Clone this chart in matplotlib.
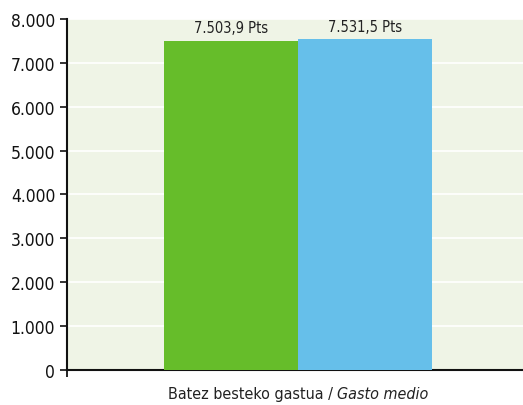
import matplotlib
matplotlib.use('Agg')
from matplotlib import pyplot as plt
from matplotlib.offsetbox import TextArea, HPacker, AnnotationBbox

# data
categories = ['Batez besteko gastua']
series_names = ['A', 'B']
series_values = [7503.9, 7531.5]
value_labels = ['7.503,9 Pts', '7.531,5 Pts']
y_ticks = [0, 1000, 2000, 3000, 4000, 5000, 6000, 7000, 8000]
y_tick_labels = ['0', '1.000', '2.000', '3.000', '4.000', '5.000', '6.000', '7.000', '8.000']

colors = ['#66bd2a', '#66bfea']
plt.rcParams['font.family'] = ['DejaVu Sans']
plt.rcParams['font.stretch'] = 'condensed'

fig = plt.figure(figsize=(5.23, 4.06), dpi=100)
ax = fig.add_axes([0.128, 0.086, 0.872, 0.865])
ax.set_facecolor('#eff4e6')

width = 0.294
offsets = [-width / 2, width / 2]
for i, v in enumerate(series_values):
    ax.bar(offsets[i], v, width=width, color=colors[i], zorder=3)
    ax.text(offsets[i], v + 120, value_labels[i], ha='center', va='bottom',
            fontsize=10.5, color='#222222', zorder=4)

ax.set_xlim(-0.507, 0.493)
ax.set_ylim(0, 8000)
ax.set_yticks(y_ticks)
ax.set_yticklabels(y_tick_labels)
ax.set_xticks([-0.507])
ax.set_xticklabels([''])
ax.tick_params(axis='y', labelsize=12.5, length=5, width=1.2, colors='#111111')
ax.tick_params(axis='x', length=5, width=1.2)
ax.grid(axis='y', color='white', linewidth=1.2, zorder=1)
for s in ['top', 'right']:
    ax.spines[s].set_visible(False)
for s in ['left', 'bottom']:
    ax.spines[s].set_linewidth(1.5)
    ax.spines[s].set_color('#111111')

# x label with italic part
t1 = TextArea('Batez besteko gastua / ', textprops=dict(fontsize=11.5, color='#222222'))
t2 = TextArea('Gasto medio', textprops=dict(fontsize=11.5, color='#222222', style='italic'))
box = HPacker(children=[t1, t2], align='baseline', pad=0, sep=0)
ab = AnnotationBbox(box, (0.0, 0), xybox=(0.0, -17), xycoords=('data', 'axes fraction'),
                    boxcoords='offset points', frameon=False, box_alignment=(0.5, 0.5))
ax.add_artist(ab)

fig.savefig('out.png', dpi=100)
